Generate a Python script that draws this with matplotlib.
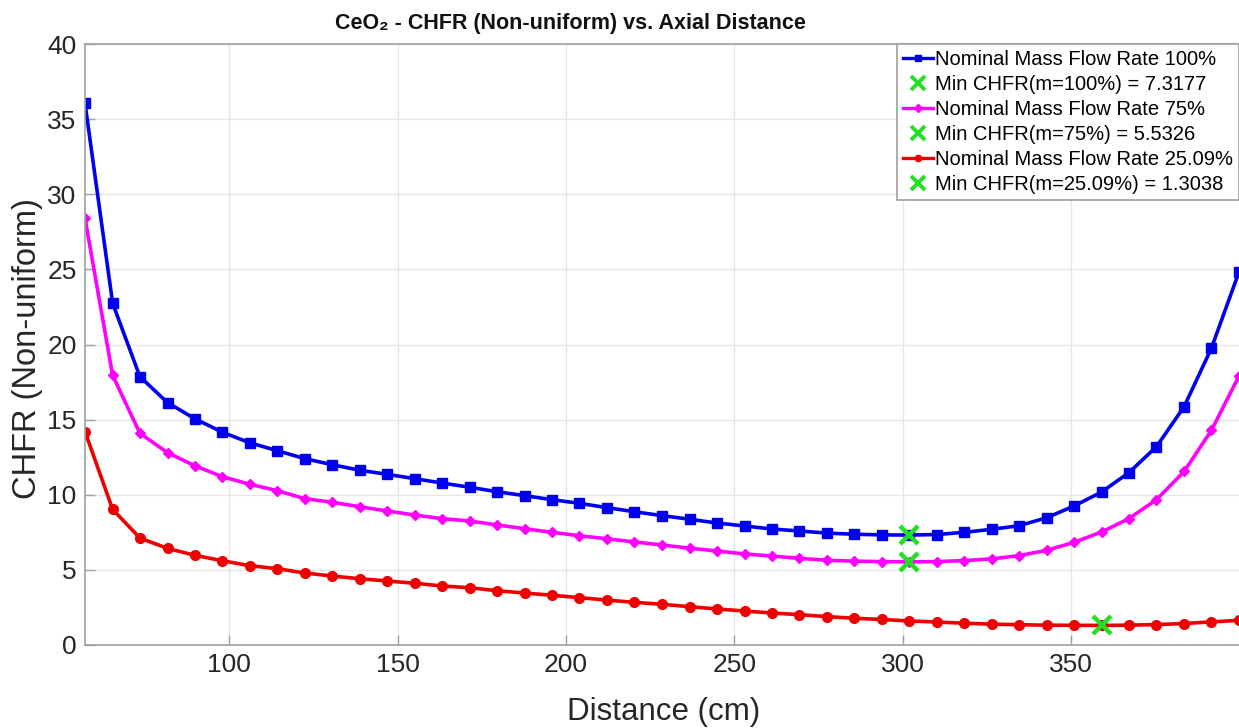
import matplotlib
matplotlib.use("Agg")
import matplotlib.pyplot as plt

plt.rcParams['font.family'] = ['Liberation Sans', 'DejaVu Sans']

distance = [57.2, 65.4, 73.5, 81.7, 89.8, 98.0, 106.1, 114.3, 122.5, 130.6,
            138.8, 146.9, 155.1, 163.2, 171.4, 179.6, 187.7, 195.9, 204.0, 212.2,
            220.3, 228.5, 236.7, 244.8, 253.0, 261.1, 269.3, 277.4, 285.6, 293.7,
            301.9, 310.1, 318.2, 326.4, 334.5, 342.7, 350.8, 359.0, 367.1, 375.3,
            383.5, 391.6, 399.8]

chfr_100 = [36.05, 22.75, 17.86, 16.13, 15.06, 14.16, 13.46, 12.93, 12.40, 12.00,
            11.63, 11.36, 11.07, 10.78, 10.50, 10.20, 9.94, 9.67, 9.43, 9.14,
            8.87, 8.61, 8.37, 8.12, 7.92, 7.72, 7.59, 7.45, 7.37, 7.33,
            7.3177, 7.35, 7.50, 7.70, 7.94, 8.47, 9.25, 10.18, 11.47, 13.20,
            15.86, 19.75, 24.83]

chfr_75 = [28.40, 17.95, 14.09, 12.80, 11.93, 11.20, 10.70, 10.27, 9.74, 9.50,
           9.20, 8.92, 8.65, 8.41, 8.25, 7.99, 7.74, 7.50, 7.27, 7.07,
           6.86, 6.66, 6.44, 6.26, 6.06, 5.92, 5.77, 5.64, 5.58, 5.55,
           5.5326, 5.55, 5.62, 5.73, 5.95, 6.30, 6.83, 7.52, 8.41, 9.67,
           11.55, 14.28, 17.90]

chfr_25 = [14.20, 9.03, 7.12, 6.43, 5.97, 5.61, 5.28, 5.08, 4.79, 4.59,
           4.41, 4.26, 4.11, 3.93, 3.81, 3.61, 3.46, 3.31, 3.15, 2.99,
           2.84, 2.71, 2.55, 2.40, 2.26, 2.13, 2.02, 1.89, 1.78, 1.70,
           1.60, 1.53, 1.45, 1.39, 1.35, 1.32, 1.31, 1.3038, 1.32, 1.36,
           1.43, 1.54, 1.64]

min_x = [301.9, 301.9, 359.0]
min_y = [7.3177, 5.5326, 1.3038]

series_labels = ['Nominal Mass Flow Rate 100%', 'Nominal Mass Flow Rate 75%',
                 'Nominal Mass Flow Rate 25.09%']
min_labels = ['Min CHFR(m=100%) = 7.3177', 'Min CHFR(m=75%) = 5.5326',
              'Min CHFR(m=25.09%) = 1.3038']

x_ticks = [100, 150, 200, 250, 300, 350]
y_ticks = [0, 5, 10, 15, 20, 25, 30, 35, 40]

fig = plt.figure(figsize=(12.39, 7.28), dpi=100)
ax = fig.add_axes([85/1239, 83/728, 1 - 85/1239, (645-44)/728])

series = [chfr_100, chfr_75, chfr_25]
colors = ['#0000ee', '#ff00ff', '#ee0000']
markers = ['s', 'D', 'o']
msizes = [6.5, 5.5, 7]
green = '#22e022'

for i in range(3):
    ax.plot(distance, series[i], color=colors[i], marker=markers[i],
            markersize=msizes[i], linewidth=2.6, label=series_labels[i])
    ax.plot([min_x[i]], [min_y[i]], linestyle='none', marker='x',
            color=green, markersize=13, markeredgewidth=3.2, label=min_labels[i])

ax.set_xlim(distance[0], distance[-1])
ax.set_ylim(0, 40)
ax.set_xticks(x_ticks)
ax.set_yticks(y_ticks)
ax.grid(True, color='#e6e6e6', linewidth=1.0)
ax.set_axisbelow(True)
ax.tick_params(direction='in', length=7, width=1, colors='#a0a0a0',
               labelcolor='#262626', labelsize=19, pad=6)
for s in ['left', 'top', 'bottom']:
    ax.spines[s].set_color('#a0a0a0')
    ax.spines[s].set_linewidth(1.2)
ax.spines['right'].set_visible(False)

fig.text(664/1239, 1 - 712/728, 'Distance (cm)', fontsize=22.5, color='#262626',
         ha='center', va='center')
fig.text(28/1239, 1 - 349/728, 'CHFR (Non-uniform)', fontsize=23.5, color='#262626',
         ha='center', va='center', rotation=90)
fig.text(570/1239, 1 - 23/728, 'CeO\u2082 - CHFR (Non-uniform) vs. Axial Distance',
         ha='center', va='center', fontsize=15.5, fontweight='bold', color='#111111')

leg = ax.legend(loc='upper right', bbox_to_anchor=(1.0, 1.0), borderaxespad=0,
                fontsize=14.5, handlelength=1.5, handletextpad=0.1,
                labelspacing=0.3, borderpad=0.3, fancybox=False,
                framealpha=1, edgecolor='#a0a0a0')
leg.get_frame().set_linewidth(1.2)
for h in leg.legend_handles:
    if h.get_marker() == 'x':
        h.set_markersize(10)
        h.set_markeredgewidth(2.8)
    else:
        h.set_markersize(4.5)
        h.set_linewidth(2.4)

fig.savefig('out.png', dpi=100)
